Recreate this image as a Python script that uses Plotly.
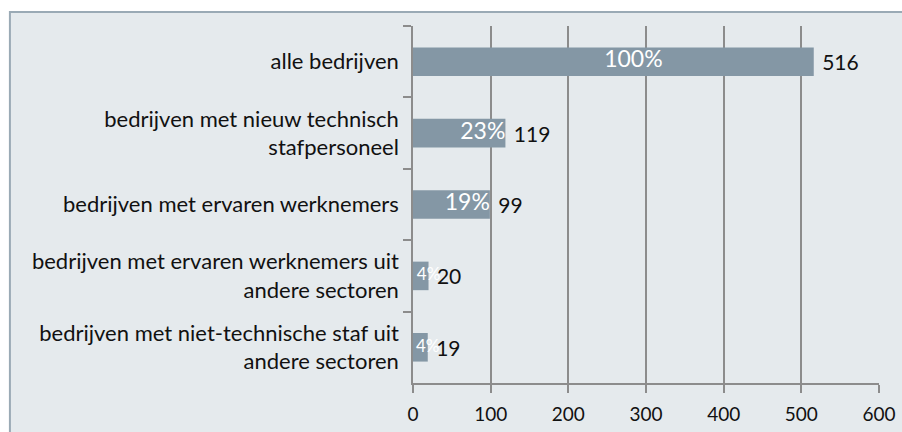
import plotly.graph_objects as go

categories = [
    "alle bedrijven",
    "bedrijven met nieuw technisch<br>stafpersoneel",
    "bedrijven met ervaren werknemers",
    "bedrijven met ervaren werknemers uit<br>andere sectoren",
    "bedrijven met niet-technische staf uit<br>andere sectoren",
]
counts = [516, 119, 99, 20, 19]
shares = ["100%", "23%", "19%", "4%", "4%"]
x_ticks = [0, 100, 200, 300, 400, 500, 600]

bar_color = "#8497a5"
grid_color = "#8c8c8c"
font_name = "Lato"

# where the share labels sit: centred for the big bar, at the end for the rest
share_x = [counts[0] * 0.55] + counts[1:]
share_pos = ["middle center", "middle left", "middle left", "middle center", "middle center"]
share_size = [23, 23, 23, 17, 17]

fig = go.Figure()

fig.add_trace(go.Bar(
    y=categories,
    x=counts,
    orientation="h",
    width=0.4,
    marker=dict(color=bar_color, line=dict(width=0)),
    text=["\u00a0" + str(c) for c in counts],
    textposition="outside",
    textfont=dict(family=font_name, size=21, color="#111111"),
    cliponaxis=False,
    showlegend=False,
))

fig.add_trace(go.Scatter(
    y=categories,
    x=share_x,
    mode="text",
    text=shares,
    textposition=share_pos,
    textfont=dict(family=font_name, size=share_size, color="white"),
    cliponaxis=False,
    showlegend=False,
))

# light panel with a border on the top and left, like the original frame
fig.add_shape(
    type="rect", xref="paper", yref="paper",
    x0=-0.865, x1=1.2, y0=-0.3, y1=1.039,
    fillcolor="#e5eaed", line=dict(color="#9aaab5", width=2),
    layer="below",
)

fig.update_layout(
    width=902,
    height=432,
    margin=dict(l=413, r=23, t=26, b=49),
    paper_bgcolor="white",
    plot_bgcolor="rgba(0,0,0,0)",
    font=dict(family=font_name, size=22, color="#111111"),
    bargap=0.6,
)

fig.update_xaxes(
    range=[0, 600],
    tickvals=x_ticks,
    automargin=False,
    showgrid=True,
    gridcolor=grid_color,
    gridwidth=1.5,
    showline=True,
    linecolor=grid_color,
    linewidth=1.5,
    ticks="outside",
    ticklen=8,
    tickcolor=grid_color,
    tickwidth=1.5,
    ticklabelstandoff=5,
    tickfont=dict(size=19),
    zeroline=False,
)

fig.update_yaxes(
    autorange="reversed",
    automargin=False,
    showgrid=False,
    showline=True,
    linecolor=grid_color,
    linewidth=1.5,
    ticks="outside",
    tickson="boundaries",
    ticklen=8,
    tickcolor=grid_color,
    tickwidth=1.5,
    ticklabelstandoff=8,
    tickfont=dict(size=22),
)

# drop the default page margin so the 902x432 figure fills the window exactly
fig.write_html(
    "out.html",
    config={"displayModeBar": False},
    post_script="document.body.style.margin='0';document.body.style.overflow='hidden';",
)
